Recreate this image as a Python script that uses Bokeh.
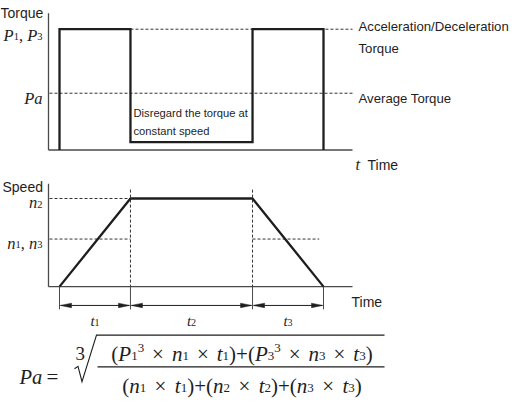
import numpy as np
from bokeh.plotting import figure
from bokeh.models import Range1d, ColumnDataSource
from bokeh.core.properties import value
from bokeh.embed import file_html
from bokeh.resources import INLINE

# ---------------- data ----------------
phase_names = ["1", "2", "3"]                 # t1, t2, t3
phase_durations = [1.0, 1.72, 1.0]            # relative lengths of t1, t2, t3
torque_levels = [1.0, 0.065, 1.0]             # P1, torque at constant speed, P3
torque_average = 0.47                         # Pa
speed_profile = [0.0, 1.0, 1.0, 0.0]          # speed at 0, t1, t1+t2, end
speed_max = 1.0                               # n2
speed_mid = 0.54                              # n1 = n3

# ---------------- layout (reference pixel rows / columns) ----------------
PAGE_X = (8, 519)
PAGE_Y = (415, 12)            # bottom row, top row
X_T0, X_TEND = 67, 331        # columns where time 0 and the end fall
AXIS_X0, AXIS_X1 = 56, 360
TQ_Y0, TQ_Y1 = 163, 41        # rows of torque 0 and of P1
SP_Y0, SP_Y1 = 301, 212       # rows of speed 0 and of n2
TQ_AXIS_TOP, SP_AXIS_TOP = 25, 197
VLINE_TOP = 203
DIM_Y, DIM_BOTTOM = 320, 324

SANS = "Liberation Sans"
SERIF = "Liberation Serif"
INK = "#1e1e1e"
AXIS_C = "#4a4a4a"
DASH_C = "#333333"

bounds = np.concatenate([[0.0], np.cumsum(phase_durations)])
T = bounds[-1]
ppt = (X_TEND - X_T0) / T
tq_ppu = (TQ_Y0 - TQ_Y1) / max(torque_levels)
sp_ppu = (SP_Y0 - SP_Y1) / speed_max


def t_of(px):
    return (px - X_T0) / ppt


def tq_of(row):
    return (TQ_Y0 - row) / tq_ppu


def sp_of(row):
    return (SP_Y0 - row) / sp_ppu


p = figure(width=511, height=399, x_range=Range1d(*PAGE_X), y_range=Range1d(*PAGE_Y),
           output_backend="svg", toolbar_location=None,
           x_axis_location=None, y_axis_location=None, min_border=0)
p.outline_line_color = None
p.grid.visible = False
p.background_fill_color = "white"
p.extra_x_ranges = {"time": Range1d(t_of(PAGE_X[0]), t_of(PAGE_X[1]))}
p.extra_y_ranges = {"torque": Range1d(tq_of(PAGE_Y[0]), tq_of(PAGE_Y[1])),
                    "speed": Range1d(sp_of(PAGE_Y[0]), sp_of(PAGE_Y[1]))}

TQ = dict(x_range_name="time", y_range_name="torque")
SP = dict(x_range_name="time", y_range_name="speed")
TR = dict(x_range_name="time")

ax0, ax1 = t_of(AXIS_X0), t_of(AXIS_X1)

# ---------------- torque panel ----------------
P1, P2, P3 = torque_levels
p.line([ax0, ax0], [tq_of(TQ_AXIS_TOP), 0], line_color=AXIS_C, line_width=1.3, **TQ)
p.line([ax0, ax1], [0, 0], line_color=AXIS_C, line_width=1.3, **TQ)
p.line([t_of(AXIS_X0 + 1), ax1], [torque_average, torque_average], line_color=DASH_C,
       line_width=1, line_dash="3 2", **TQ)
p.line([bounds[1], ax1], [max(P1, P3)] * 2, line_color=DASH_C, line_width=1, line_dash="3 2", **TQ)
tx = [bounds[0], bounds[0], bounds[1], bounds[1], bounds[2], bounds[2], bounds[3], bounds[3]]
ty = [0, P1, P1, P2, P2, P3, P3, 0]
p.line(tx, ty, line_color=INK, line_width=2.3, line_join="miter", **TQ)

# ---------------- speed panel ----------------
p.line([ax0, ax0], [sp_of(SP_AXIS_TOP), 0], line_color=AXIS_C, line_width=1.3, **SP)
p.line([ax0, ax1], [0, 0], line_color=AXIS_C, line_width=1.3, **SP)
p.line([t_of(AXIS_X0 + 1), bounds[1]], [speed_max] * 2, line_color=DASH_C, line_width=1,
       line_dash="3 2", **SP)
p.line([t_of(AXIS_X0 + 1), bounds[1]], [speed_mid] * 2, line_color=DASH_C, line_width=1,
       line_dash="3 2", **SP)
p.line([bounds[2], bounds[3] - 0.06], [speed_mid] * 2, line_color=DASH_C, line_width=1,
       line_dash="3 2", **SP)
p.segment(x0=list(bounds[1:3]), y0=[sp_of(VLINE_TOP)] * 2, x1=list(bounds[1:3]), y1=[0, 0],
          line_color=DASH_C, line_width=1, line_dash="3 2", **SP)
p.line(bounds, speed_profile, line_color=INK, line_width=2.3, **SP)

# extension lines and dimension arrows
p.segment(x0=list(bounds), y0=[SP_Y0] * 4, x1=list(bounds), y1=[DIM_BOTTOM] * 4,
          line_color=AXIS_C, line_width=1, **TR)
gap, head_len, head_half = 1.0 / ppt, 11.0 / ppt, 2.3
xs_l, ys_l, hx, hy = [], [], [], []
for a, b in zip(bounds[:-1], bounds[1:]):
    xs_l.append([a + gap, b - gap])
    ys_l.append([DIM_Y, DIM_Y])
    hx.append([a + gap, a + gap + head_len, a + gap + head_len])
    hy.append([DIM_Y, DIM_Y - head_half, DIM_Y + head_half])
    hx.append([b - gap, b - gap - head_len, b - gap - head_len])
    hy.append([DIM_Y, DIM_Y - head_half, DIM_Y + head_half])
p.multi_line(xs_l, ys_l, line_color=INK, line_width=1, **TR)
p.patches(hx, hy, fill_color=INK, line_color=INK, line_width=0.5, **TR)

# ---------------- serif (math) text built from runs ----------------
W_REG = {"(": .333, ")": .333, "+": .564, "×": .564, "=": .564, " ": .25, ",": .25}
W_IT = {"P": .611, "a": .5, "n": .5, "t": .278}


def text_w(s, italic):
    tot = 0.0
    for c in s:
        if c.isdigit():
            tot += .5
        elif italic:
            tot += W_IT.get(c, .5)
        else:
            tot += W_REG.get(c, .5)
    return tot


serif = dict(x=[], y=[], text=[], size=[], style=[])


def put_runs(runs, x0, base, size, small, pad=0.3, align="left"):
    items = []
    x = 0.0
    for txt, kind in runs:
        if kind == "i":
            items.append((x, 0.0, txt, size, "italic"))
            x += text_w(txt, True) * size
        elif kind == "r":
            items.append((x, 0.0, txt, size, "normal"))
            x += text_w(txt, False) * size
        elif kind == "sub":
            items.append((x, 0.1 * size, txt, small, "normal"))
            x += text_w(txt, False) * small
        elif kind == "sup":
            items.append((x, -0.27 * size, txt, small, "normal"))
            x += text_w(txt, False) * small
        elif kind == "op":
            items.append((x + pad * size, 0.0, txt, size, "normal"))
            x += (2 * pad + text_w(txt, False)) * size
    shift = {"left": 0.0, "center": x / 2, "right": x}[align]
    for dx, dy, txt, sz, st in items:
        serif["x"].append(x0 - shift + dx)
        serif["y"].append(base + dy)
        serif["text"].append(txt)
        serif["size"].append(f"{sz:.1f}px")
        serif["style"].append(st)


LBL_X = 50
put_runs([("P", "i"), ("1", "sub"), (", ", "r"), ("P", "i"), ("3", "sub")],
         LBL_X, TQ_Y1 + 6, 16.5, 10.5, align="right")
put_runs([("Pa", "i")], LBL_X, (TQ_Y0 - torque_average * tq_ppu) + 5.5, 16.5, 10.5,
         align="right")
put_runs([("n", "i"), ("2", "sub")], LBL_X, SP_Y1 + 4, 16.5, 10.5, align="right")
put_runs([("n", "i"), ("1", "sub"), (", ", "r"), ("n", "i"), ("3", "sub")],
         LBL_X, (SP_Y0 - speed_mid * sp_ppu) + 4, 16.5, 10.5, align="right")
put_runs([("t", "i")], 363, 178, 16.5, 10.5)
for name, a, b in zip(phase_names, bounds[:-1], bounds[1:]):
    put_runs([("t", "i"), (name, "sub")], X_T0 + (a + b) / 2 * ppt, 336, 15, 10, align="center")

# formula
FRAC_X0, FRAC_X1, FRAC_Y = 105, 392, 382
put_runs([("Pa", "i")], 27, FRAC_Y + 10, 20.5, 13)
put_runs([("=", "r")], 54, FRAC_Y + 10, 21, 13)
put_runs([("3", "r")], 83, FRAC_Y - 13, 19, 12)
num = [("(", "r"), ("P", "i"), ("1", "sub"), ("3", "sup"), ("×", "op"), ("n", "i"), ("1", "sub"),
       ("×", "op"), ("t", "i"), ("1", "sub"), (")+(", "r"), ("P", "i"), ("3", "sub"), ("3", "sup"),
       ("×", "op"), ("n", "i"), ("3", "sub"), ("×", "op"), ("t", "i"), ("3", "sub"), (")", "r")]
den = [("(", "r"), ("n", "i"), ("1", "sub"), ("×", "op"), ("t", "i"), ("1", "sub"), (")+(", "r"),
       ("n", "i"), ("2", "sub"), ("×", "op"), ("t", "i"), ("2", "sub"), (")+(", "r"),
       ("n", "i"), ("3", "sub"), ("×", "op"), ("t", "i"), ("3", "sub"), (")", "r")]
fc = (FRAC_X0 + FRAC_X1) / 2 + 1
put_runs(num, fc, FRAC_Y - 13, 21, 13, pad=0.38, align="center")
put_runs(den, fc, FRAC_Y + 19, 21, 13, pad=0.4, align="center")

p.line([FRAC_X0, FRAC_X1], [FRAC_Y, FRAC_Y], line_color=INK, line_width=1.2)
p.line([82, 85.5, 89.5, 104, FRAC_X1], [FRAC_Y + 2, FRAC_Y - 0.5, FRAC_Y + 15, FRAC_Y - 32, FRAC_Y - 32],
       line_color=INK, line_width=1.1, line_join="miter")

p.text(x="x", y="y", text="text", source=ColumnDataSource(serif), text_font=value(SERIF),
       text_font_size="size", text_font_style="style", text_color=INK,
       text_align="left", text_baseline="alphabetic")

# ---------------- sans labels ----------------
sans = dict(
    x=[8, 10, 366, 366, 366, 375, 359, 141, 141],
    y=[24.5, 200.5, 38, 60, 111, 178.5, 316.5, 126, 144],
    text=["Torque", "Speed", "Acceleration/Deceleration", "Torque", "Average Torque",
          "Time", "Time", "Disregard the torque at", "constant speed"],
    size=["14px", "14px", "13.2px", "13.2px", "13.2px", "14px", "14px", "11.2px", "11.2px"],
)
p.text(x="x", y="y", text="text", source=ColumnDataSource(sans), text_font=value(SANS),
       text_font_size="size", text_color=INK, text_align="left", text_baseline="alphabetic")

open("out.html", "w").write(file_html(p, INLINE))
